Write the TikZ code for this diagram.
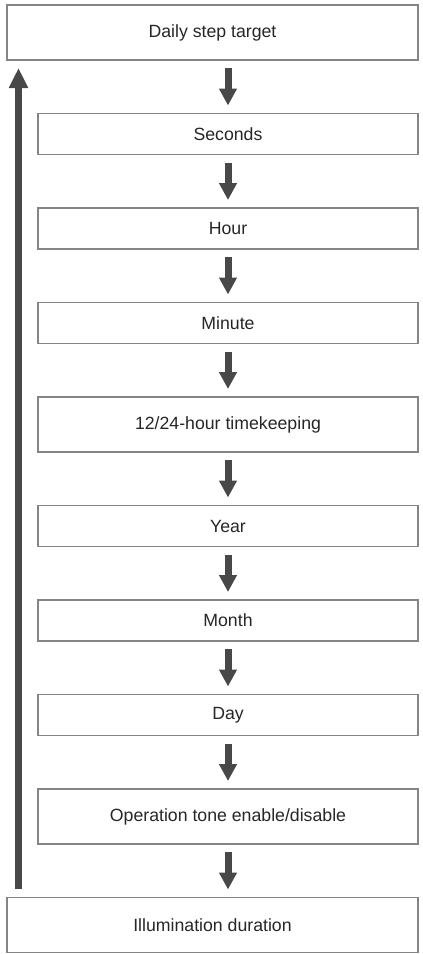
\documentclass[tikz,border=0pt]{standalone}
\usepackage{fontspec}
\setmainfont{Liberation Sans}
\usetikzlibrary{
    arrows.meta,
    positioning,
    calc,
}
\definecolor{boxgray}{HTML}{858585}
\definecolor{arrowgray}{HTML}{484848}

\begin{document}
\begin{tikzpicture}[
    node distance= 53.5pt,
    stage/.style={draw=boxgray, line width=1.3pt, outer sep=0pt, minimum width=380pt, minimum height=41pt, inner sep=0pt, font=\fontsize{17.7}{20}\selectfont, text=black!85},
    tallstage/.style={stage, minimum height=55pt},
    widestage/.style={stage, minimum width=411pt, minimum height=55pt},
    flow/.style={draw=arrowgray, line width=7pt, -{Triangle[width=17pt,length=17pt]}, shorten <=8pt, shorten >=8pt},
]

\useasboundingbox (0,0) rectangle (423pt,-954pt);

\node[widestage] (daily) at (212.5pt,-32.5pt) {Daily step target};
\node[stage] (seconds) [below=of daily.south east, anchor=north east] {Seconds};
\node[stage] (hour) [below=of seconds] {Hour};
\node[stage] (minute) [below=of hour] {Minute};
\node[tallstage] (clock) [below=of minute] {12/24-hour timekeeping};
\node[stage] (year) [below=of clock] {Year};
\node[stage] (month) [below=of year] {Month};
\node[stage] (day) [below=of month] {Day};
\node[tallstage] (tone) [below=of day] {Operation tone enable/disable};
\node[widestage] (illum) [below=of tone.south east, anchor=north east] {Illumination duration};

\draw[flow] (seconds.north |- daily.south) -- (seconds.north);
\draw[flow] (seconds) -- (hour);
\draw[flow] (hour) -- (minute);
\draw[flow] (minute) -- (clock);
\draw[flow] (clock) -- (year);
\draw[flow] (year) -- (month);
\draw[flow] (month) -- (day);
\draw[flow] (day) -- (tone);
\draw[flow] (tone.south) -- (tone.south |- illum.north);

% back to the start
\draw[flow, shorten <=9pt, -{Triangle[width=18pt,length=20pt]}] ([xshift=11.5pt]illum.north west) -- ([xshift=11.5pt]daily.south west);

\end{tikzpicture}
\end{document}
